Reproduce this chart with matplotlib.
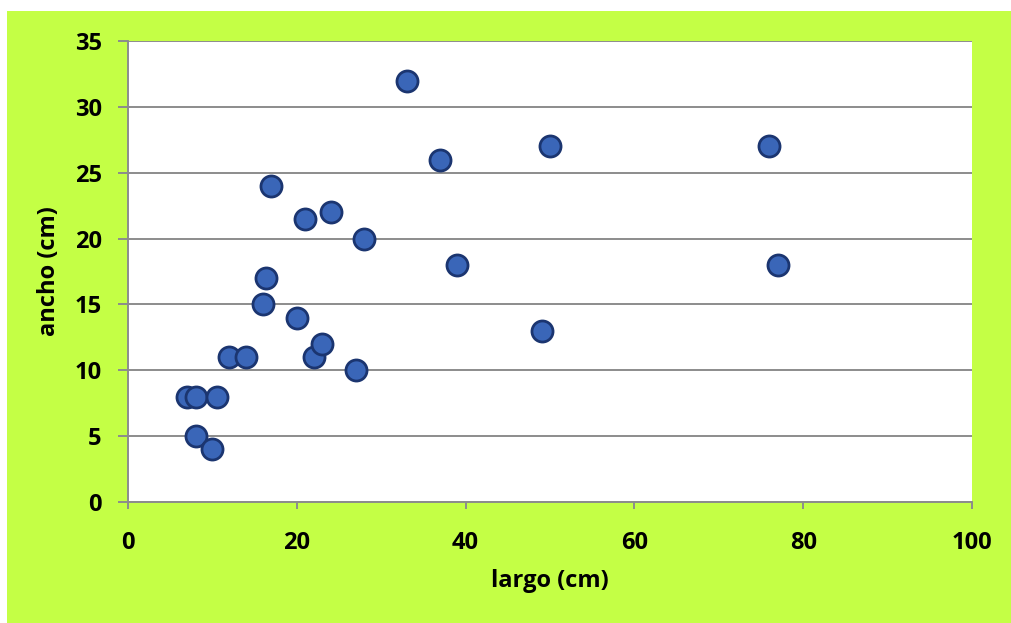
import matplotlib.pyplot as plt
from matplotlib.patches import Rectangle

# largo / ancho de las hojas (cm)
largo = [7, 8, 10.5, 8, 10, 12, 14, 16, 16.4, 17, 20, 21, 22, 23, 24, 27, 28,
         33, 37, 39, 49, 50, 76, 77]
ancho = [8, 8, 8, 5, 4, 11, 11, 15, 17, 24, 14, 21.5, 11, 12, 22, 10, 20,
         32, 26, 18, 13, 27, 27, 18]

xticks = [0, 20, 40, 60, 80, 100]
yticks = [0, 5, 10, 15, 20, 25, 30, 35]

plt.rcParams['font.family'] = ['Open Sans', 'DejaVu Sans']

fig = plt.figure(figsize=(10.11, 6.23), dpi=100)
fig.patch.set_facecolor('white')
# green panel behind the chart
fig.add_artist(Rectangle((7 / 1011, 0), 1, 1 - 11 / 623, transform=fig.transFigure,
                         facecolor='#c4ff45', edgecolor='none', zorder=-5))

ax = fig.add_axes([128 / 1011, 121 / 623, 844 / 1011, 461 / 623])
ax.set_facecolor('white')

ax.scatter(largo, ancho, s=230, color='#3a66b8', edgecolors='#1b3570',
           linewidths=2, zorder=3, clip_on=False)

ax.set_xlim(0, 100)
ax.set_ylim(0, 35)
ax.set_xticks(xticks)
ax.set_yticks(yticks)
ax.grid(axis='y', color='#8c8c8c', linewidth=1.4, zorder=1)
ax.set_axisbelow(True)

for side in ['top', 'right']:
    ax.spines[side].set_visible(False)
for side in ['left', 'bottom']:
    ax.spines[side].set_color('#8c8c8c')
    ax.spines[side].set_linewidth(1.4)

ax.tick_params(axis='y', direction='out', length=7, width=1.4, color='#8c8c8c', pad=12)
ax.tick_params(axis='x', direction='out', length=5, width=1.4, color='#8c8c8c', pad=16)
for lab in ax.get_xticklabels() + ax.get_yticklabels():
    lab.set_fontsize(17)
    lab.set_fontweight('bold')

ax.set_xlabel('largo (cm)', fontsize=17, fontweight='bold', labelpad=10)
ax.set_ylabel('ancho (cm)', fontsize=17, fontweight='bold', labelpad=10)

fig.savefig('out.png', dpi=100)
